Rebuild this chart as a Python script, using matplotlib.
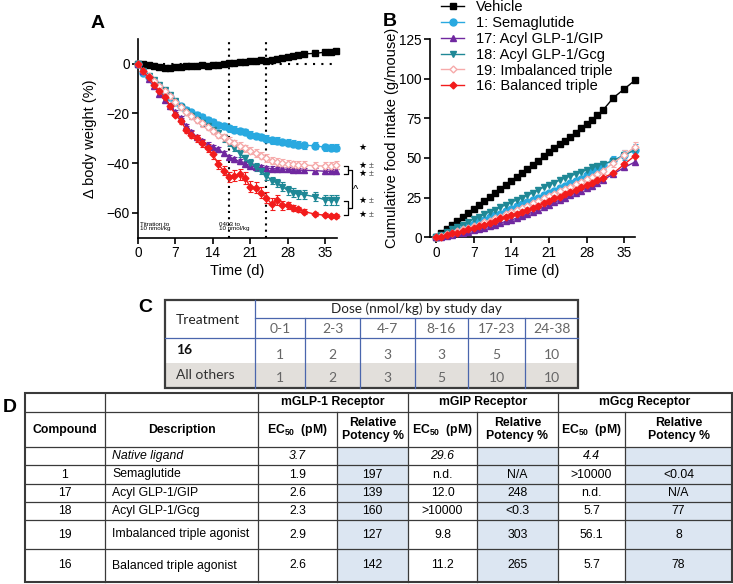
import matplotlib
matplotlib.use('Agg')
import matplotlib.pyplot as plt
from matplotlib.patches import Rectangle
from matplotlib.lines import Line2D

plt.rcParams['font.family'] = ['Liberation Sans', 'DejaVu Sans']
plt.rcParams['mathtext.fontset'] = 'custom'
plt.rcParams['mathtext.rm'] = 'Liberation Sans'
plt.rcParams['mathtext.bf'] = 'Liberation Sans:bold'

# ---------------- Panel A data (body weight change, %) ----------------
days_a = [0, 1, 2, 3, 4, 5, 6, 7, 8, 9, 10, 11, 12, 13, 14, 15, 16, 17, 18, 19,
          20, 21, 22, 23, 24, 25, 26, 27, 28, 29, 30, 31, 33, 35, 36, 37]
vehicle_a = [0, 0, -0.3, -0.8, -1.2, -1.5, -1.5, -1.3, -1.2, -1.0, -0.8, -0.7, -0.5, -0.8, -0.5, -0.3, -0.2, 0.2, 0.4, 0.6,
             0.8, 1.0, 1.2, 1.4, 1.2, 1.5, 1.8, 2.2, 2.7, 3.2, 3.6, 4.0, 4.2, 4.7, 4.8, 5.0]
sema_a = [0, -3.5, -5.5, -7.5, -9.5, -11.5, -13.5, -15.5, -17, -18.5, -19.5, -20.5, -21.5, -22.5, -23.5, -24.5, -25, -26, -26.5, -27,
          -27.5, -28.5, -29, -29.5, -30.2, -30.7, -31, -31.5, -31.8, -32.2, -32.5, -32.8, -33, -33.6, -33.8, -33.8]
gip_a = [0, -3, -6, -9, -12, -14.5, -17, -19.5, -22, -25, -27.5, -29.5, -31, -32.5, -33.5, -34.5, -36, -37.5, -38.5, -39.3,
         -40.2, -41, -41.5, -41.7, -42, -42.2, -42.3, -42.4, -42.5, -42.7, -42.8, -42.9, -43, -43.3, -43.3, -43.3]
gcg_a = [0, -3, -5, -6.5, -8.5, -10.5, -12.5, -15, -17.5, -19.5, -21, -22.5, -24, -25, -26.5, -28, -30, -32, -34, -36,
         -38, -40, -41.5, -43, -45, -47, -48, -49.5, -51, -52, -52.5, -52.7, -53.5, -54.8, -55, -54.8]
imb_a = [0, -3, -5, -7, -9, -11, -13, -15.5, -17.5, -19.5, -21, -22.5, -24, -25.5, -27, -28.5, -29.5, -31, -32, -33,
         -34, -35, -36, -37, -38, -39, -39.5, -40, -40.3, -40.5, -40.7, -40.8, -41, -41.2, -41, -40.8]
bal_a = [0, -3, -5.5, -8.5, -11, -13.5, -17, -20.5, -23, -26.5, -28.5, -30, -32, -34, -36.5, -40.5, -43, -45.5, -45, -44.5,
         -46, -49.5, -50, -52, -54, -56.5, -55, -57, -57, -58, -58.5, -59.5, -60.5, -61, -61.2, -61.2]

vehicle_a_err = [0, 0.3, 0.3, 0.4, 0.4, 0.4, 0.4, 0.4, 0.4, 0.4, 0.4, 0.4, 0.4, 0.5, 0.5, 0.5, 0.5, 0.5, 0.5, 0.5,
                 0.5, 0.5, 0.5, 0.5, 0.6, 0.6, 0.6, 0.6, 0.6, 0.6, 0.6, 0.6, 0.7, 0.7, 0.7, 0.7]
sema_a_err = [0, 0.5, 0.6, 0.7, 0.8, 0.9, 0.9, 1.0, 1.0, 1.1, 1.1, 1.1, 1.2, 1.2, 1.2, 1.2, 1.3, 1.3, 1.3, 1.3,
              1.3, 1.3, 1.3, 1.3, 1.4, 1.4, 1.4, 1.4, 1.4, 1.4, 1.4, 1.4, 1.4, 1.4, 1.4, 1.4]
gip_a_err = [0, 0.5, 0.6, 0.7, 0.7, 0.8, 0.8, 0.8, 0.9, 0.9, 0.9, 0.9, 0.9, 0.9, 0.9, 0.9, 0.9, 0.9, 0.9, 0.9,
             0.9, 0.9, 0.9, 0.9, 0.9, 0.9, 0.9, 0.9, 0.9, 0.9, 0.9, 0.9, 1.0, 1.0, 1.0, 1.0]
gcg_a_err = [0, 0.5, 0.6, 0.7, 0.8, 0.8, 0.9, 0.9, 1.0, 1.0, 1.1, 1.1, 1.1, 1.2, 1.2, 1.2, 1.3, 1.3, 1.3, 1.4,
             1.4, 1.5, 1.5, 1.5, 1.6, 1.6, 1.7, 1.7, 1.8, 1.8, 1.8, 1.8, 1.9, 2.0, 2.0, 2.0]
imb_a_err = [0, 0.6, 0.7, 0.8, 0.9, 1.0, 1.0, 1.1, 1.1, 1.2, 1.2, 1.3, 1.3, 1.3, 1.4, 1.4, 1.4, 1.5, 1.5, 1.5,
             1.5, 1.5, 1.5, 1.5, 1.5, 1.5, 1.5, 1.5, 1.5, 1.5, 1.5, 1.5, 1.6, 1.6, 1.6, 1.6]
bal_a_err = [0, 0.5, 0.6, 0.7, 0.8, 0.9, 1.0, 1.1, 1.2, 1.3, 1.4, 1.5, 1.5, 1.6, 1.7, 1.8, 1.9, 2.0, 2.2, 2.3,
             2.3, 2.3, 2.2, 2.2, 2.2, 2.3, 2.0, 1.8, 1.4, 1.2, 1.0, 1.0, 0.9, 0.8, 0.8, 0.8]

# ---------------- Panel B data (cumulative food intake, g/mouse) ----------------
days_b = [0, 1, 2, 3, 4, 5, 6, 7, 8, 9, 10, 11, 12, 13, 14, 15, 16, 17, 18, 19,
          20, 21, 22, 23, 24, 25, 26, 27, 28, 29, 30, 31, 33, 35, 37]
vehicle_b = [0, 3, 5.5, 8, 10.5, 13, 15.5, 18, 20.5, 23, 25.5, 28, 30.5, 33, 35.5, 38, 40.5, 43, 45.5, 48,
             51, 53.5, 56, 58.5, 61, 63.5, 66, 69, 71.5, 74, 77, 80, 88, 93.5, 99]
sema_b = [0, 1, 2, 3.5, 4.5, 5.5, 7, 8.5, 10, 11, 12.5, 14, 15, 16.5, 18, 19.5, 21, 22, 23.5, 25,
          26.5, 28, 29.5, 31, 32.5, 34, 35.5, 37, 39, 41, 43, 45.5, 48.5, 52, 55]
gip_b = [0, 0.5, 1, 1.5, 2.5, 3, 3.5, 4.5, 5, 6, 7, 8, 9, 10, 11, 12, 13.5, 14.5, 16, 17.5,
         19, 20.5, 22, 23.5, 25, 26.5, 28, 29.5, 31, 32.5, 34, 36, 40, 44, 47.5]
gcg_b = [0, 1.5, 3.5, 5, 6.5, 8, 9.5, 11.5, 13, 14.5, 16, 17.5, 19, 20.5, 22, 23.5, 25, 26.5, 28, 30,
         31.5, 33, 34.5, 36, 37.5, 38.5, 40, 41, 42.5, 44, 45, 46.5, 48, 52, 55]
imb_b = [0, 1, 2, 3, 4, 5, 6, 7, 8, 9.5, 10.5, 12, 13, 14.5, 16, 17, 18.5, 20, 21.5, 23,
         24.5, 26, 27.5, 29, 30.5, 32, 33.5, 35, 36.5, 38, 40, 42, 47, 52, 57]
bal_b = [0, 0.5, 1.5, 2.5, 3, 4, 5, 6, 7, 8, 9, 10.5, 12, 13, 14, 15, 16, 17, 18.5, 20,
         21.5, 23, 24.5, 25.5, 27, 28.5, 30, 31.5, 33, 34.5, 36, 37.5, 40.5, 46, 51.5]
sema_b_err = [0, 0.2, 0.3, 0.3, 0.4, 0.5, 0.5, 0.6, 0.7, 0.7, 0.8, 0.9, 0.9, 1.0, 1.0, 1.1, 1.2, 1.2, 1.3, 1.3,
              1.4, 1.4, 1.5, 1.5, 1.6, 1.7, 1.7, 1.8, 1.9, 2.0, 2.1, 2.2, 2.5, 3.0, 3.5]
imb_b_err = [0, 0.2, 0.3, 0.3, 0.4, 0.5, 0.5, 0.6, 0.7, 0.7, 0.8, 0.9, 0.9, 1.0, 1.0, 1.1, 1.2, 1.2, 1.3, 1.3,
             1.4, 1.4, 1.5, 1.5, 1.6, 1.7, 1.7, 1.8, 1.9, 2.0, 2.1, 2.2, 2.5, 2.8, 3.0]

series_labels = ['Vehicle', '1: Semaglutide', '17: Acyl GLP-1/GIP', '18: Acyl GLP-1/Gcg',
                 '19: Imbalanced triple', '16: Balanced triple']

# ---------------- Table C data ----------------
c_day_ranges = ['0-1', '2-3', '4-7', '8-16', '17-23', '24-38']
c_dose_16 = ['1', '2', '3', '3', '5', '10']
c_dose_others = ['1', '2', '3', '5', '10', '10']

# ---------------- Table D data ----------------
d_compound = ['', '1', '17', '18', '19', '16']
d_description = ['Native ligand', 'Semaglutide', 'Acyl GLP-1/GIP', 'Acyl GLP-1/Gcg',
                 'Imbalanced triple agonist', 'Balanced triple agonist']
d_glp_ec50 = ['3.7', '1.9', '2.6', '2.3', '2.9', '2.6']
d_glp_rel = ['', '197', '139', '160', '127', '142']
d_gip_ec50 = ['29.6', 'n.d.', '12.0', '>10000', '9.8', '11.2']
d_gip_rel = ['', 'N/A', '248', '<0.3', '303', '265']
d_gcg_ec50 = ['4.4', '>10000', 'n.d.', '5.7', '56.1', '5.7']
d_gcg_rel = ['', '<0.04', 'N/A', '77', '8', '78']

# ---------------- styles ----------------
styles = [
    dict(color='black', marker='s', ms=4.5, mfc='black', mec='black'),
    dict(color='#29a9e0', marker='o', ms=5, mfc='#29a9e0', mec='#29a9e0'),
    dict(color='#7028a0', marker='^', ms=5, mfc='#7028a0', mec='#7028a0'),
    dict(color='#1f8896', marker='v', ms=5, mfc='#1f8896', mec='#1f8896'),
    dict(color='#f6aaaa', marker='D', ms=3.5, mfc='white', mec='#f6aaaa'),
    dict(color='#f21c1c', marker='D', ms=3.5, mfc='#f21c1c', mec='#f21c1c'),
]

W, H = 733, 584
fig = plt.figure(figsize=(W / 100, H / 100), dpi=100)


def rect(x0, y0, x1, y1):
    return [x0 / W, 1 - y1 / H, (x1 - x0) / W, (y1 - y0) / H]


def style_axes(ax):
    for s in ['top', 'right']:
        ax.spines[s].set_visible(False)
    for s in ['left', 'bottom']:
        ax.spines[s].set_linewidth(1.2)
    ax.tick_params(direction='out', length=4, width=1.2, labelsize=9.8, pad=2)


# ---------------- Panel A ----------------
axA = fig.add_axes(rect(138, 39, 337, 237.6))
style_axes(axA)
a_series = [vehicle_a, sema_a, gip_a, gcg_a, imb_a, bal_a]
a_errs = [vehicle_a_err, sema_a_err, gip_a_err, gcg_a_err, imb_a_err, bal_a_err]
axA.axhline(0, color='black', ls=(0, (1, 3)), lw=1.5, zorder=1)
axA.axvline(17, color='black', ls=(0, (1, 2)), lw=1.5, zorder=1)
axA.axvline(24, color='black', ls=(0, (1, 2)), lw=1.5, zorder=1)
for vals, err, st in zip(a_series, a_errs, styles):
    axA.errorbar(days_a, vals, yerr=err, color=st['color'], marker=st['marker'], ms=st['ms'],
                 mfc=st['mfc'], mec=st['mec'], lw=1, elinewidth=0.8, capsize=1.8, capthick=0.8,
                 ecolor=st['color'], clip_on=False, zorder=3)
axA.set_xlim(0, 37.2)
axA.set_ylim(-70, 10)
axA.set_xticks([0, 7, 14, 21, 28, 35])
axA.set_yticks([0, -20, -40, -60])
axA.set_xlabel('Time (d)', fontsize=10.5, labelpad=3)
axA.set_ylabel('\u0394 body weight (%)', fontsize=10.5, labelpad=7)
axA.text(0.3, -67.5, 'Titration to\n10 nmol/kg', fontsize=4.5, va='bottom', ha='left', linespacing=0.9)
axA.text(15.1, -67.5, '0403 to\n10 nmol/kg', fontsize=4.5, va='bottom', ha='left', linespacing=0.9)

# significance marks
star_y = [-33.8, -41.0, -44.2, -55.2, -60.8]
plusminus = [False, True, True, True, True]
for yv, pm in zip(star_y, plusminus):
    axA.text(42.0, yv, '\u2605', fontsize=6.5, ha='center', va='center', clip_on=False)
    if pm:
        axA.text(43.6, yv, '\u00b1', fontsize=6.5, color='#555555', ha='center', va='center', clip_on=False)
kw = dict(color='black', lw=0.9, clip_on=False, transform=axA.transData)
for (y0, y1) in [(-41.0, -44.2), (-55.2, -60.8)]:
    axA.add_line(Line2D([38.6, 39.2, 39.2, 38.6], [y0, y0, y1, y1], **kw))
axA.add_line(Line2D([39.2, 40.0, 40.0, 39.2], [-42.6, -42.6, -58.0, -58.0], **kw))
axA.text(40.6, -51.0, '^', fontsize=8, ha='center', va='center', clip_on=False)

# ---------------- Panel B ----------------
axB = fig.add_axes(rect(430, 39, 635, 237.3))
style_axes(axB)
b_series = [vehicle_b, sema_b, gip_b, gcg_b, imb_b, bal_b]
b_errs = [None, sema_b_err, None, None, imb_b_err, None]
for vals, err, st, lab in zip(b_series, b_errs, styles, series_labels):
    axB.errorbar(days_b, vals, yerr=err, color=st['color'], marker=st['marker'], ms=st['ms'],
                 mfc=st['mfc'], mec=st['mec'], lw=1, elinewidth=0.8, capsize=1.8, capthick=0.8,
                 clip_on=False, zorder=3, label=lab)
axB.set_xlim(-1.1, 37)
axB.set_ylim(0, 125)
axB.set_xticks([0, 7, 14, 21, 28, 35])
axB.set_yticks([0, 25, 50, 75, 100, 125])
axB.set_xlabel('Time (d)', fontsize=10.5, labelpad=3)
axB.set_ylabel('Cumulative food intake (g/mouse)', fontsize=10.5, labelpad=0)
leg_handles = [Line2D([0], [0], color=st['color'], marker=st['marker'], ms=st['ms'],
                      mfc=st['mfc'], mec=st['mec'], lw=1) for st in styles]
fig.legend(leg_handles, series_labels, loc='upper left', bbox_to_anchor=(441 / W, 1 - 0 / H),
           frameon=False, fontsize=10.5, handlelength=1.6, handletextpad=0.8,
           labelspacing=0.13, borderpad=0.0, borderaxespad=0.0)

# ---------------- overlay for tables and panel letters ----------------
ov = fig.add_axes([0, 0, 1, 1], zorder=5)
ov.set_xlim(0, W)
ov.set_ylim(H, 0)
ov.axis('off')
ov.patch.set_alpha(0)

ov.text(98, 23, 'A', fontsize=14, fontweight='bold', ha='center', va='center')
ov.text(390, 21, 'B', fontsize=14, fontweight='bold', ha='center', va='center')
ov.text(145, 307, 'C', fontsize=14, fontweight='bold', ha='center', va='center')
ov.text(10, 408, 'D', fontsize=14, fontweight='bold', ha='center', va='center')

# ----- Table C -----
cfont = 'Lato'
c_cols = [165, 255, 305, 360, 415, 468, 525, 578]
ov.add_patch(Rectangle((165, 363), 413, 25, fc='#e2dfdb', ec='none'))
blue = '#4a66ad'
ov.plot([255, 255], [300, 388], color=blue, lw=0.9)
for xc in c_cols[2:-1]:
    ov.plot([xc, xc], [318, 388], color=blue, lw=0.9)
ov.plot([255, 578], [318, 318], color=blue, lw=0.9)
ov.plot([165, 578], [338, 338], color=blue, lw=0.9)
ov.add_patch(Rectangle((165, 300), 413, 88, fc='none', ec='#3c3c3c', lw=1.6))
ov.text(208, 320, 'Treatment', fontsize=10, family=cfont, color='#222222', ha='center', va='center')
ov.text(416.5, 309, 'Dose (nmol/kg) by study day', fontsize=9.7, family=cfont, color='#222222',
        ha='center', va='center')
for i, lab in enumerate(c_day_ranges):
    xc = (c_cols[i + 1] + c_cols[i + 2]) / 2
    ov.text(xc, 329, lab, fontsize=10, family=cfont, color='#666666', ha='center', va='center')
    ov.text(xc, 355, c_dose_16[i], fontsize=10, family=cfont, color='#666666', ha='center', va='center')
    ov.text(xc, 378, c_dose_others[i], fontsize=10, family=cfont, color='#666666', ha='center', va='center')
ov.text(176, 350, '16', fontsize=10, family=cfont, fontweight='bold', color='#111111', ha='left', va='center')
ov.text(176, 375, 'All others', fontsize=10, family=cfont, color='#333333', ha='left', va='center')

# ----- Table D -----
d_cols = [25, 105, 258, 337, 408, 477, 558, 625, 732]
d_rows = [393, 412, 447, 465, 484, 502, 520, 549, 582]
fill = '#dce6f2'
for ci in [3, 5, 7]:
    ov.add_patch(Rectangle((d_cols[ci], d_rows[2]), d_cols[ci + 1] - d_cols[ci], d_rows[-1] - d_rows[2],
                           fc=fill, ec='none'))
lc = '#3a3a3a'
for yr in d_rows[1:-1]:
    ov.plot([d_cols[0], d_cols[-1]], [yr, yr], color=lc, lw=0.9)
for xc in [105, 258, 408, 558]:
    ov.plot([xc, xc], [d_rows[0], d_rows[-1]], color=lc, lw=0.9)
for xc in [337, 477, 625]:
    ov.plot([xc, xc], [d_rows[1], d_rows[-1]], color=lc, lw=0.9)
ov.add_patch(Rectangle((d_cols[0], d_rows[0]), d_cols[-1] - d_cols[0], d_rows[-1] - d_rows[0],
                       fc='none', ec=lc, lw=1.5))
dfs = 8.8
hy = (d_rows[0] + d_rows[1]) / 2
ov.text((258 + 408) / 2, hy, 'mGLP-1 Receptor', fontsize=dfs, fontweight='bold', ha='center', va='center')
ov.text((408 + 558) / 2, hy, 'mGIP Receptor', fontsize=dfs, fontweight='bold', ha='center', va='center')
ov.text((558 + 732) / 2, hy, 'mGcg Receptor', fontsize=dfs, fontweight='bold', ha='center', va='center')
h2 = (d_rows[1] + d_rows[2]) / 2
hdrs = ['Compound', 'Description', r'EC$_\mathbf{50}$  (pM)', 'Relative\nPotency %',
        r'EC$_\mathbf{50}$  (pM)', 'Relative\nPotency %', r'EC$_\mathbf{50}$  (pM)', 'Relative\nPotency %']
for i, t in enumerate(hdrs):
    ov.text((d_cols[i] + d_cols[i + 1]) / 2, h2, t, fontsize=dfs, fontweight='bold',
            ha='center', va='center', linespacing=1.0)
cols_data = [d_glp_ec50, d_glp_rel, d_gip_ec50, d_gip_rel, d_gcg_ec50, d_gcg_rel]
for r in range(len(d_compound)):
    yc = (d_rows[r + 2] + d_rows[r + 3]) / 2
    st = 'italic' if r == 0 else 'normal'
    ov.text((d_cols[0] + d_cols[1]) / 2, yc, d_compound[r], fontsize=dfs, ha='center', va='center')
    ov.text(112, yc, d_description[r], fontsize=dfs, style=st, ha='left', va='center')
    for j, col in enumerate(cols_data):
        ov.text((d_cols[j + 2] + d_cols[j + 3]) / 2, yc, col[r], fontsize=dfs, style=st,
                ha='center', va='center')

fig.savefig('out.png', dpi=100)
